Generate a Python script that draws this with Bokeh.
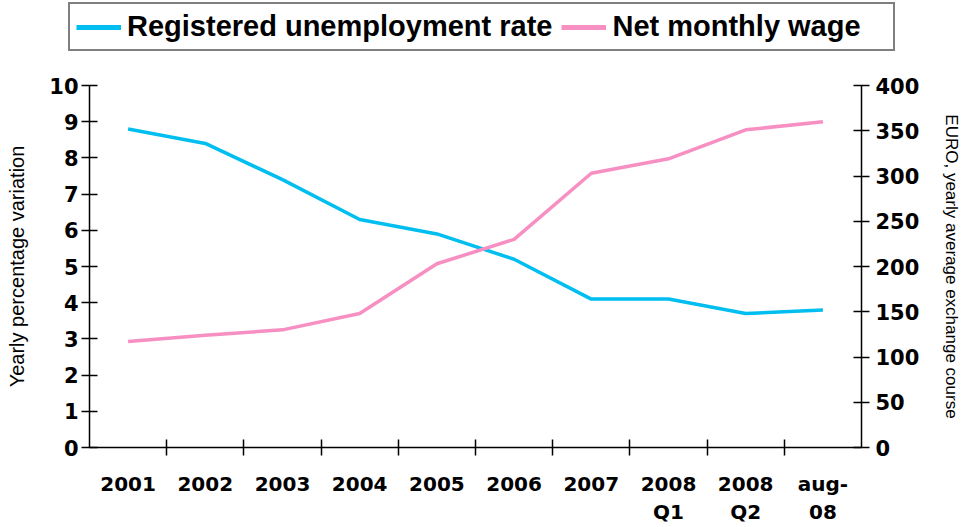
import numpy as np
from bokeh.plotting import figure
from bokeh.layouts import column, row
from bokeh.models import (Range1d, LinearAxis, FixedTicker, Legend, LegendItem,
                          ColumnDataSource)
from bokeh.embed import file_html
from bokeh.resources import INLINE

# ---- data ----
categories = ["2001", "2002", "2003", "2004", "2005", "2006", "2007",
              "2008\nQ1", "2008\nQ2", "aug-\n08"]
unemployment = [8.8, 8.4, 7.4, 6.3, 5.9, 5.2, 4.1, 4.1, 3.7, 3.8]
wage = [117, 124, 130, 148, 203, 230, 303, 319, 351, 360]
left_ticks = list(range(0, 11))
right_ticks = list(range(0, 401, 50))
series_names = ["Registered unemployment rate", "Net monthly wage"]

BLUE = "#00bff0"
PINK = "#f78fc2"
TICK_FONT = "DejaVu Sans"
TITLE_FONT = "Liberation Sans"

n = len(categories)
xs = list(range(n))
src = ColumnDataSource(dict(x=xs, u=unemployment, w=wage))

# ---------------- main chart ----------------
p = figure(width=964, height=467, output_backend="svg", toolbar_location=None,
           x_range=Range1d(-0.5, n - 0.5), y_range=Range1d(0, 10),
           min_border_left=89, min_border_right=100, min_border_top=25,
           min_border_bottom=80)
p.extra_y_ranges = {"right": Range1d(0, 400)}
p.outline_line_color = None
p.xgrid.visible = False
p.ygrid.visible = False
p.background_fill_color = "white"
p.border_fill_color = "white"

p.line("x", "u", source=src, line_color=BLUE, line_width=3.5)
p.line("x", "w", source=src, line_color=PINK, line_width=3.5, y_range_name="right")

# x axis
xa = p.xaxis[0]
xa.ticker = FixedTicker(ticks=xs, minor_ticks=[i + 0.5 for i in xs[:-1]])
xa.major_label_overrides = {i: c for i, c in zip(xs, categories)}
xa.major_tick_in = 0
xa.major_tick_out = 0
xa.minor_tick_in = 8
xa.minor_tick_out = 8
xa.minor_tick_line_color = "black"
xa.minor_tick_line_width = 1.5
xa.axis_line_width = 1.5
xa.axis_line_color = "black"
xa.major_label_standoff = 16
xa.major_label_text_font = TICK_FONT
xa.major_label_text_font_style = "bold"
xa.major_label_text_font_size = "20px"
xa.major_label_text_color = "black"

# left axis
ya = p.yaxis[0]
ya.ticker = FixedTicker(ticks=left_ticks)
ya.minor_tick_line_color = None
ya.major_tick_in = 8
ya.major_tick_out = 8
ya.major_tick_line_width = 1.5
ya.axis_line_width = 1.5
ya.axis_line_color = "black"
ya.major_label_standoff = 3
ya.major_label_text_font = TICK_FONT
ya.major_label_text_font_style = "bold"
ya.major_label_text_font_size = "21px"
ya.major_label_text_color = "black"
ya.axis_label = "Yearly percentage variation"
ya.axis_label_text_font = TITLE_FONT
ya.axis_label_text_font_style = "normal"
ya.axis_label_text_font_size = "20px"
ya.axis_label_text_color = "black"
ya.axis_label_standoff = 18

# right axis
ra = LinearAxis(y_range_name="right", ticker=FixedTicker(ticks=right_ticks))
ra.minor_tick_line_color = None
ra.major_tick_in = 8
ra.major_tick_out = 8
ra.major_tick_line_width = 1.5
ra.axis_line_width = 1.5
ra.axis_line_color = "black"
ra.major_label_standoff = 6
ra.major_label_text_font = TICK_FONT
ra.major_label_text_font_style = "bold"
ra.major_label_text_font_size = "21px"
ra.major_label_text_color = "black"
ra.axis_label = "EURO, yearly average exchange course"
ra.axis_label_text_font = TITLE_FONT
ra.axis_label_text_font_style = "normal"
ra.axis_label_text_font_size = "17px"
ra.axis_label_text_color = "black"
ra.axis_label_standoff = 20
p.add_layout(ra, "right")

# ---------------- legend strip ----------------
lf = figure(width=964, height=60, output_backend="svg", toolbar_location=None,
            x_range=Range1d(0, 1), y_range=Range1d(0, 1),
            x_axis_type=None, y_axis_type=None,
            min_border=0, min_border_left=0, min_border_right=0,
            min_border_top=0, min_border_bottom=0)
lf.outline_line_color = None
lf.xgrid.visible = False
lf.ygrid.visible = False
lf.border_fill_color = "white"

proxy = ColumnDataSource(dict(x=[np.nan], y=[np.nan]))
lg_u = lf.line("x", "y", source=proxy, line_color=BLUE, line_width=5)
lg_w = lf.line("x", "y", source=proxy, line_color=PINK, line_width=5)

legend = Legend(items=[LegendItem(label=series_names[0], renderers=[lg_u]),
                       LegendItem(label=series_names[1], renderers=[lg_w])],
                orientation="horizontal", location=(68, 9),
                border_line_color="black", border_line_width=2,
                label_text_font="Liberation Sans", label_text_font_style="bold",
                label_text_font_size="29px", label_text_color="black",
                glyph_width=45, glyph_height=28, label_standoff=6, spacing=9,
                padding=6, margin=0, label_height=28, label_width=275)
lf.add_layout(legend, "center")

layout = column(row(lf), p, spacing=0)
open("out.html", "w").write(file_html(layout, INLINE))
